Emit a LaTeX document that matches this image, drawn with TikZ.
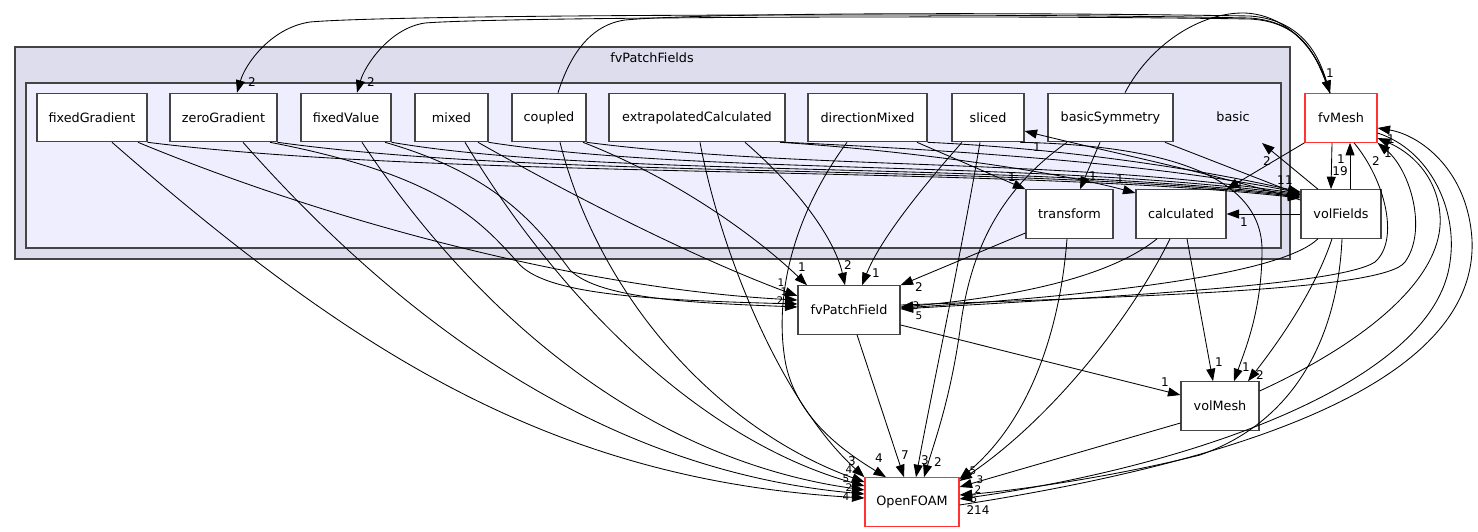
\documentclass[tikz,border=0pt]{standalone}
\usepackage{fontspec}
\setmainfont{DejaVu Sans}
\usetikzlibrary{arrows.meta}
\definecolor{cout}{HTML}{DDDDEE}
\definecolor{cin}{HTML}{EEEEFF}
\definecolor{bord}{HTML}{444444}
\definecolor{redb}{HTML}{FF3333}
\begin{document}
\begin{tikzpicture}[x=1pt,y=-1pt,
  box/.style={draw=bord, fill=white, line width=1.1pt, minimum height=48.5pt, inner sep=0pt, font=\fontsize{12.8}{15}\selectfont},
  redbox/.style={box, draw=redb},
  dep/.style={draw=black, line width=0.85pt, -{Triangle[length=12.5pt,width=9pt]}},
  lab/.style={font=\fontsize{12}{14}\selectfont, inner sep=0pt},
  slab/.style={font=\fontsize{10.5}{12}\selectfont, inner sep=0pt},
  ttl/.style={font=\fontsize{12.8}{15}\selectfont, inner sep=0pt},
  clu/.style={draw=bord, line width=1.1pt}]
\useasboundingbox (0,0) rectangle (1478,531);
% clusters
\draw[clu, fill=cout] (15,47) rectangle (1290,259);
\node[ttl] (tPF) at (652,58) {fvPatchFields};
\draw[clu, fill=cin] (26,83) rectangle (1281,248);
\node[ttl] (tB) at (1233,117) {basic};
\coordinate (bc) at (1262,143);
% nodes
\node[box, minimum width=110pt] (fG) at (92,117.5) {fixedGradient};
\node[box, minimum width=107pt] (zG) at (223.5,117.5) {zeroGradient};
\node[box, minimum width=90pt] (fV) at (346,117.5) {fixedValue};
\node[box, minimum width=73pt] (mx) at (451.5,117.5) {mixed};
\node[box, minimum width=74pt] (cp) at (549,117.5) {coupled};
\node[box, minimum width=176pt] (eC) at (697,117.5) {extrapolatedCalculated};
\node[box, minimum width=119pt] (dM) at (867.5,117.5) {directionMixed};
\node[box, minimum width=72pt] (sl) at (988,117.5) {sliced};
\node[box, minimum width=125pt] (bS) at (1110.5,117.5) {basicSymmetry};
\node[redbox, minimum width=72pt] (fM) at (1341,118) {fvMesh};
\node[box, minimum width=87pt] (tr) at (1069.5,214) {transform};
\node[box, minimum width=90pt] (ca) at (1181,214) {calculated};
\node[box, minimum width=80pt] (vF) at (1341,214) {volFields};
\node[box, minimum width=102pt] (fP) at (849,310) {fvPatchField};
\node[box, minimum width=78pt] (vM) at (1220,406) {volMesh};
\node[redbox, minimum width=94pt] (OF) at (912,502) {OpenFOAM};
% top arcs
\draw[dep] (fM.north -| 1330,0) .. controls (1318,60) and (1305,22) .. (1250,18) .. controls (1000,13) and (400,14) .. (310,22) .. controls (270,28) and (245,65) .. (zG.north -| 237,0);
\draw[dep] (fM.north -| 1330,0) .. controls (1318,60) and (1305,22) .. (1250,19) .. controls (1000,15) and (500,17) .. (425,23) .. controls (390,28) and (365,65) .. (fV.north -| 357,0);
\draw[dep] (cp.north -| 558,0) .. controls (570,55) and (590,25) .. (625,20) .. controls (700,13) and (1000,12) .. (1250,16) .. controls (1305,20) and (1320,60) .. (fM.north -| 1330,0);
\draw[dep] (bS.north -| 1125,0) .. controls (1150,45) and (1200,12) .. (1245,13) .. controls (1290,15) and (1318,55) .. (fM.north -| 1330,0);
% to volFields
\draw[dep] (fG.south east) .. controls (450,180) and (1000,165) .. (vF.west |- 0,198);
\draw[dep] (zG.south east) .. controls (550,180) and (1000,163) .. (vF.west |- 0,197);
\draw[dep] (fV.south east) .. controls (600,178) and (1000,161) .. (vF.west |- 0,196);
\draw[dep] (mx.south east) .. controls (700,175) and (1030,160) .. (vF.west |- 0,195);
\draw[dep] (cp.south east) .. controls (800,170) and (1060,158) .. (vF.west |- 0,194);
\draw[dep] (eC.south east) .. controls (950,150) and (1150,163) .. (vF.west |- 0,193);
\draw[dep] (dM.south east) .. controls (1050,148) and (1180,165) .. (vF.west |- 0,192);
\draw[dep] (bS.south -| 1165,0) -- (vF.west |- 0,195);
% row 1 internal
\draw[dep] (eC.south -| 780,0) .. controls (900,150) and (1050,170) .. (ca.west |- 0,193);
\draw[dep] (dM.south -| 917,0) -- (tr.north west);
\draw[dep] (bS.south -| 1100,0) -- (tr.north -| 1080,0);
\draw[dep] (bS.south -| 1067,0) .. controls (1000,190) and (970,250) .. (960,330) .. controls (950,400) and (935,440) .. (OF.north -| 924,0);
\draw[dep] (sl.south -| 962,0) .. controls (920,190) and (880,240) .. (fP.north -| 862,0);
\draw[dep] (sl.south -| 980,0) .. controls (960,260) and (930,400) .. (OF.north -| 916,0);
\draw[dep] (sl.south -| 1020,0) .. controls (1150,145) and (1262,170) .. (1262,250) .. controls (1262,310) and (1245,350) .. (vM.north -| 1234,0);
\draw[dep] (vF.west |- 0,200) .. controls (1200,170) and (1100,150) .. (sl.east |- 0,131);
\draw[dep] (fM.south west) -- (ca.north east);
\draw[dep] (vF.west) -- (ca.east);
\draw[dep] (vF.north -| 1318,0) -- (bc);
\draw[dep] (fM.south -| 1332,0) -- (vF.north -| 1331,0);
\draw[dep] (vF.north -| 1350,0) -- (fM.south -| 1350,0);
% calculated, transform
\draw[dep] (ca.south -| 1157,0) .. controls (1100,285) and (980,300) .. (fP.east |- 0,307);
\draw[dep] (ca.south -| 1187,0) -- (vM.north -| 1213,0);
\draw[dep] (ca.south -| 1170,0) .. controls (1130,320) and (1050,420) .. (OF.east |- 0,481);
\draw[dep] (tr.south -| 1067,0) .. controls (1060,330) and (1030,420) .. (OF.east |- 0,479);
\draw[dep] (tr.west |- 0,233) -- (fP.north east);
% volFields, fvMesh
\draw[dep] (vF.south -| 1318,0) .. controls (1280,275) and (1100,295) .. (fP.east |- 0,308);
\draw[dep] (fM.south -| 1354,0) .. controls (1385,180) and (1400,240) .. (1375,262) .. controls (1340,285) and (1120,296) .. (fP.east |- 0,309);
\draw[dep] (fP.east |- 0,305) .. controls (1150,296) and (1385,290) .. (1405,262) .. controls (1428,230) and (1410,170) .. (fM.south east);
\draw[dep] (vM.east |- 0,391) .. controls (1360,345) and (1445,280) .. (1440,215) .. controls (1437,175) and (1410,152) .. (fM.east |- 0,138);
\draw[dep] (fM.east |- 0,133) .. controls (1430,150) and (1458,210) .. (1450,262) .. controls (1435,380) and (1200,465) .. (OF.east |- 0,499);
\draw[dep] (OF.east |- 0,505) .. controls (1250,460) and (1478,380) .. (1472,240) .. controls (1468,170) and (1420,135) .. (fM.east |- 0,128);
\draw[dep] (vF.south -| 1332,0) .. controls (1315,290) and (1280,340) .. (vM.north -| 1248,0);
\draw[dep] (vF.south -| 1342,0) .. controls (1338,330) and (1300,420) .. (1200,455) .. controls (1100,480) and (1000,492) .. (OF.east |- 0,495);
\draw[dep] (fP.east |- 0,325) -- (vM.west |- 0,395);
\draw[dep] (vM.west |- 0,423) -- (OF.east |- 0,487);
\draw[dep] (fP.south -| 857,0) -- (OF.north -| 904,0);
% left group
\draw[dep] (dM.south -| 847,0) .. controls (790,220) and (775,300) .. (785,360) .. controls (795,420) and (850,455) .. (OF.north -| 886,0);
\draw[dep] (eC.south -| 700,0) .. controls (720,250) and (780,400) .. (OF.north west);
\draw[dep] (eC.south -| 745,0) .. controls (800,190) and (835,240) .. (fP.north -| 845,0);
\draw[dep] (cp.south -| 583,0) .. controls (680,180) and (760,240) .. (fP.north -| 807,0);
\draw[dep] (cp.south -| 560,0) .. controls (600,300) and (720,430) .. (OF.west |- 0,482);
\draw[dep] (mx.south -| 478,0) .. controls (580,200) and (700,260) .. (fP.west |- 0,296);
\draw[dep] (mx.south -| 465,0) .. controls (560,300) and (700,440) .. (OF.west |- 0,486);
\draw[dep] (fV.south -| 362,0) .. controls (480,320) and (650,460) .. (OF.west |- 0,490);
\draw[dep] (zG.south -| 243,0) .. controls (400,320) and (600,470) .. (OF.west |- 0,494);
\draw[dep] (fG.south -| 112,0) .. controls (350,350) and (550,480) .. (OF.west |- 0,498);
\draw[dep] (fG.south -| 138,0) .. controls (350,230) and (600,290) .. (fP.west |- 0,300);
\draw[dep] (zG.south -| 270,0) .. controls (440,175) and (480,220) .. (520,265) .. controls (550,295) and (650,300) .. (fP.west |- 0,304);
\draw[dep] (fV.south -| 385,0) .. controls (500,175) and (540,230) .. (570,270) .. controls (600,300) and (700,303) .. (fP.west |- 0,307);
% labels
\node[lab] (l1) at (252,82) {2};
\node[lab] (l2) at (371,82) {2};
\node[lab] (l3) at (1330,73) {1};
\node[lab] (l4) at (1281,180) {1};
\node[lab] (l5) at (1289,180) {1};
\node[lab] (l6) at (1120,179) {1};
\node[lab] (l7) at (1012,177) {1};
\node[lab] (l8) at (1093,176) {1};
\node[lab] (l9) at (1037,147) {1};
\node[lab] (l10) at (1240,186) {1};
\node[lab] (l11) at (1244,222) {1};
\node[lab] (l12) at (1267,161) {2};
\node[lab] (l13) at (1341,159) {1};
\node[lab] (l14) at (1340,171) {19};
\node[lab] (l15) at (1376,161) {2};
\node[lab] (l16) at (1388,153) {1};
\node[lab] (l17) at (1391,139) {1};
\node[lab] (l18) at (802,267) {1};
\node[lab] (l19) at (848,265) {2};
\node[lab] (l20) at (876,273) {1};
\node[lab] (l21) at (919,287) {2};
\node[slab] (l22) at (781,283) {1};
\node[slab] (l23) at (784,292) {1};
\node[slab] (l24) at (780,301) {2};
\node[slab] (l25) at (916,306) {3};
\node[slab] (l26) at (919,316) {5};
\node[lab] (l27) at (1165,382) {1};
\node[lab] (l28) at (1219,362) {1};
\node[lab] (l29) at (1246,367) {1};
\node[lab] (l30) at (1260,375) {2};
\node[lab] (l31) at (852,461) {3};
\node[lab] (l32) at (879,458) {4};
\node[lab] (l33) at (905,455) {7};
\node[lab] (l34) at (925,460) {3};
\node[lab] (l35) at (938,462) {2};
\node[slab] (l36) at (849,470) {4};
\node[slab] (l37) at (846,479) {5};
\node[slab] (l38) at (849,488) {2};
\node[slab] (l39) at (846,497) {4};
\node[slab] (l40) at (973,471) {5};
\node[slab] (l41) at (980,480) {3};
\node[slab] (l42) at (978,490) {2};
\node[slab] (l43) at (974,499) {5};
\node[lab] (l44) at (978,510) {214};
\end{tikzpicture}
\end{document}
